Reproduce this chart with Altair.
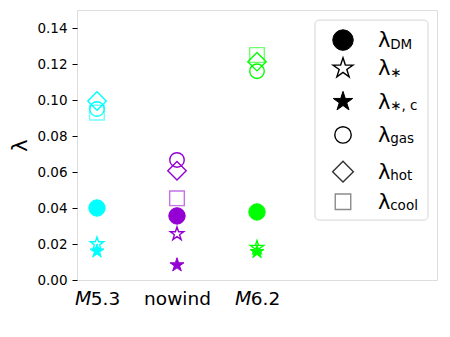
import json
import math
import altair as alt
import pandas as pd

# ---- data ----
models = ["M5.3", "nowind", "M6.2"]
tick_labels = ["𝘔5.3", "nowind", "𝘔6.2"]
model_pos = [0, 1, 2]
lam_dm = [0.0400, 0.0356, 0.0378]
lam_star = [0.0200, 0.0256, 0.0180]
lam_star_c = [0.0160, 0.0083, 0.0157]
lam_gas = [0.0950, 0.0667, 0.1160]
lam_hot = [0.0994, 0.0607, 0.1213]
lam_cool = [0.0930, 0.0454, 0.1250]
y_ticks = [0.0, 0.02, 0.04, 0.06, 0.08, 0.10, 0.12, 0.14]

legend_subs = ["DM", "∗", "∗, c", "gas", "hot", "cool"]

# ---- styles ----
fill_colors = ["#00FFFF", "#9400D3", "#00FF00"]
line_colors = ["#14C8C8", "#8A0AC8", "#18C818"]
FONT = "DejaVu Sans"

# star path in unit square
_pts = []
for k in range(10):
    a = -math.pi / 2 + k * math.pi / 5
    r = 1.0 if k % 2 == 0 else 0.382
    _pts.append(f"{r*math.cos(a):.4f},{r*math.sin(a):.4f}")
STAR = "M" + "L".join(_pts) + "Z"

XS = alt.Scale(domain=[-0.25, 4.25], nice=False, zero=False)
YS = alt.Scale(domain=[0, 0.15], nice=False, zero=False)

X = alt.X("x:Q", scale=XS, axis=alt.Axis(
    values=model_pos, labelExpr=f"{json.dumps(tick_labels)}[datum.value]",
    labelFontSize=18.5, tickSize=0, labelPadding=9, title=None, grid=False,
    domain=False, labelColor="black", labelFont=FONT))
Y = alt.Y("v:Q", scale=YS, axis=alt.Axis(
    values=y_ticks, format=".2f", labelFontSize=13.5, tickSize=5, labelPadding=5,
    tickColor="black", labelColor="black", grid=False, domain=False,
    title="λ", titleFontSize=21, titleFontWeight="normal", titleX=-57, titleY=135,
    titleBaseline="middle", titleColor="black", labelFont=FONT, titleFont=FONT))

cscale_fill = alt.Scale(domain=models, range=fill_colors)
cscale_line = alt.Scale(domain=models, range=line_colors)


def series(values, shape, size, filled, opacity=1.0):
    df = pd.DataFrame({"model": models, "x": model_pos, "v": values})
    if filled:
        m = alt.Chart(df).mark_point(shape=shape, size=size, filled=True,
                                     opacity=opacity, strokeWidth=1)
        return m.encode(x=X, y=Y,
                        fill=alt.Fill("model:N", scale=cscale_fill, legend=None),
                        stroke=alt.Stroke("model:N", scale=cscale_fill, legend=None))
    m = alt.Chart(df).mark_point(shape=shape, size=size, filled=False,
                                 opacity=opacity, strokeWidth=1.4)
    return m.encode(x=X, y=Y,
                    stroke=alt.Stroke("model:N", scale=cscale_line, legend=None))


layers = [
    series(lam_dm, "circle", 270, True),
    series(lam_star, STAR, 200, False),
    series(lam_star_c, STAR, 215, True),
    series(lam_gas, "circle", 210, False),
    series(lam_hot, "diamond", 340, False),
    series(lam_cool, "square", 215, False, opacity=0.55),
]

# ---- hand-built legend (placed in data units) ----
leg_rows = [0.1333, 0.1176, 0.0991, 0.0806, 0.0602, 0.0435]
LEG_SYM_X = 3.075
LEG_LAM_X = 3.5125
LEG_SUB_X = 3.665

frame = alt.Chart(pd.DataFrame({"x": [2.725], "x2": [4.1375], "v": [0.1444], "v2": [0.0333]})).mark_rect(
    fill="white", fillOpacity=0.85, stroke="#d5d5d5", strokeWidth=1, cornerRadius=4
).encode(x=X, x2="x2:Q", y=Y, y2="v2:Q")
layers.append(frame)

leg_specs = [
    ("circle", 420, True, 1.0),
    (STAR, 440, False, 1.0),
    (STAR, 420, True, 1.0),
    ("circle", 270, False, 1.0),
    ("diamond", 430, False, 0.8),
    ("square", 240, False, 0.45),
]
for (shape, size, filled, op), ry in zip(leg_specs, leg_rows):
    d = pd.DataFrame({"x": [LEG_SYM_X], "v": [ry]})
    if filled:
        mk = alt.Chart(d).mark_point(shape=shape, size=size, filled=True, fill="black",
                                     stroke="black", strokeWidth=1, opacity=op)
    else:
        mk = alt.Chart(d).mark_point(shape=shape, size=size, filled=False,
                                     stroke="black", strokeWidth=1.4, opacity=op)
    layers.append(mk.encode(x=X, y=Y))

lam_df = pd.DataFrame({"x": [LEG_LAM_X] * len(leg_rows), "v": leg_rows, "t": ["λ"] * len(leg_rows)})
layers.append(alt.Chart(lam_df).mark_text(
    align="left", baseline="alphabetic", dy=7, fontSize=21, font=FONT, color="black"
).encode(x=X, y=Y, text="t:N"))
sub_df = pd.DataFrame({"x": [LEG_SUB_X] * len(leg_rows), "v": leg_rows, "t": legend_subs})
layers.append(alt.Chart(sub_df).mark_text(
    align="left", baseline="alphabetic", dy=8.5, fontSize=13.5, font=FONT, color="black"
).encode(x=X, y=Y, text="t:N"))

chart = alt.layer(*layers).properties(
    width=360, height=270,
    autosize=alt.AutoSizeParams(type="none"),
    padding={"left": 69, "top": 2, "right": 5, "bottom": 40},
).configure_view(stroke="black", strokeWidth=1).configure(font=FONT)

chart.save("out.html", embed_options={"renderer": "svg", "actions": False})
